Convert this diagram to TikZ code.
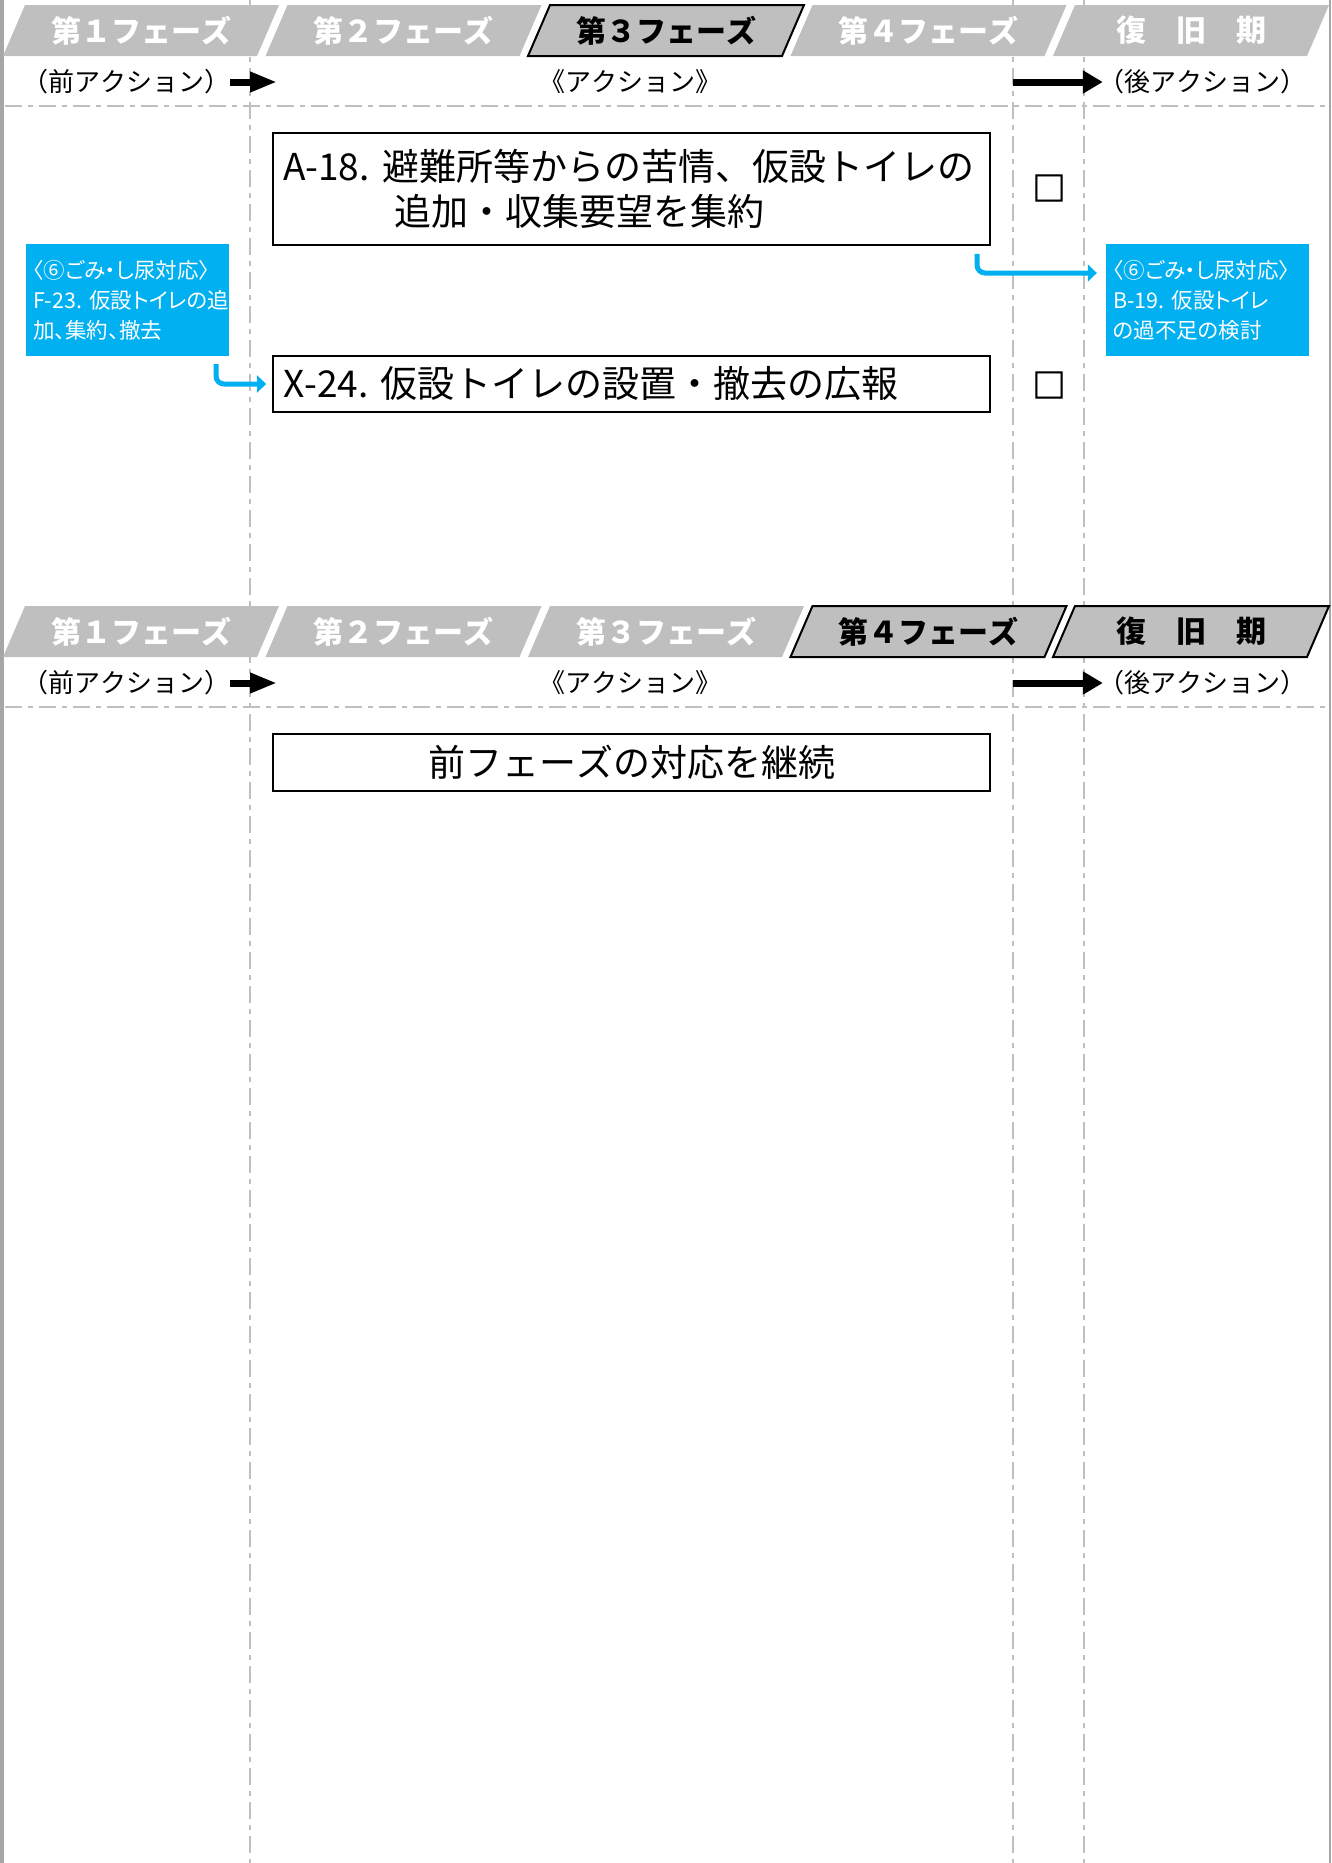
\documentclass[tikz,border=0pt]{standalone}
\usepackage{fontspec}
\setmainfont{Noto Sans CJK JP}[Kerning=Off]
\newfontfamily\propfont{Noto Sans CJK JP}[RawFeature=+palt]
\newfontfamily\boxfont{Noto Sans CJK JP}[FakeBold=2.5]
\usetikzlibrary{arrows.meta,positioning,calc}
\definecolor{tabgray}{HTML}{BFBFBF}
\definecolor{linegray}{HTML}{BFBFBF}
\definecolor{bargray}{HTML}{A6A6A6}
\definecolor{skyblue}{HTML}{00B0F0}
\frenchspacing

\begin{document}
\begin{tikzpicture}[x=1pt,y=-1pt,
    guide/.style={draw=linegray,line width=1.6pt,dash pattern=on 17pt off 6pt on 5pt off 6pt},
    tabtext/.style={font=\fontsize{30}{30}\selectfont\bfseries,text=white,inner sep=0pt},
    ontext/.style={tabtext,text=black},
    acttext/.style={font=\fontsize{26}{28}\selectfont,inner sep=0pt},
    bigarrow/.style={line width=7pt},
    task/.style={draw,line width=1.8pt,minimum width=717pt,inner xsep=10pt,inner ysep=0pt,
      text width=697pt,align=left,font=\fontsize{37}{44.5}\selectfont},
    link/.style={rectangle,fill=skyblue,text=white,minimum width=203pt,minimum height=112pt,
      inner xsep=7pt,text width=189pt,align=left,font=\propfont\fontsize{21.5}{30}\selectfont},
    flow/.style={draw=skyblue,line width=5pt,rounded corners=8pt,-{Triangle[length=9pt,width=17pt]}},
    chk/.style={font=\boxfont\fontsize{33}{33}\selectfont,inner sep=0pt}]
  \useasboundingbox (0,0) rectangle (1331,1863);
  % ---- frame and column guides ----
  \fill[bargray] (0,0) rectangle (4,1863);
  \draw[bargray,line width=2pt] (1329.5,0) -- (1329.5,1863);
  \foreach \gx in {250,1013,1084}
    \draw[guide] (\gx,0) -- (\gx,1863);
  % ---- two phase headers (active tabs framed) ----
  \foreach \dy/\first/\last [count=\h] in {0/2/2,601/3/4}{
    \foreach \i/\name in {0/第１フェーズ,1/第２フェーズ,2/第３フェーズ,3/第４フェーズ,4/復　旧　期}{
      \pgfmathsetmacro\xb{3+262.5*\i}
      \pgfmathtruncatemacro\act{and(\i>=\first,\i<=\last)}
      \ifnum\act=1
        \draw[fill=tabgray,line width=2pt] (\xb,56+\dy) -- ++(22,-51) -- ++(254,0) -- ++(-22,51) -- cycle;
        \node[ontext] (tab\h\i) at (\xb+138,30.5+\dy) {\name};
      \else
        \fill[tabgray] (\xb,56+\dy) -- ++(22,-51) -- ++(254,0) -- ++(-22,51) -- cycle;
        \node[tabtext] (tab\h\i) at (\xb+138,30.5+\dy) {\name};
      \fi
    }
    % action row
    \node[acttext] (pre\h) at (126,82+\dy) {（前アクション）};
    \node[acttext] (act\h) at (630,82+\dy) {《アクション》};
    \node[acttext] (post\h) at (1202,82+\dy) {（後アクション）};
    \coordinate (preTip\h) at (277,82+\dy);
    \coordinate (postFrom\h) at (1013,82+\dy);
    \draw[bigarrow,-{Triangle[length=27pt,width=19pt]}] (pre\h.east) -- (preTip\h);
    \draw[bigarrow,-{Triangle[length=20pt,width=22pt]}] (postFrom\h) -- ([xshift=5pt]post\h.west);
    \draw[guide] (5,106+\dy) -- (1331,106+\dy);
  }
  % ---- phase 3 actions ----
  \node[task,minimum height=112pt] (a18) at (631.5,189)
    {A-18. 避難所等からの苦情、仮設トイレの\\　　　追加・収集要望を集約};
  \node[task,minimum height=56pt] (x24) at (631.5,384) {X-24. 仮設トイレの設置・撤去の広報};
  \node[chk] (chkA) at (1049,188) {□};
  \node[chk] (chkX) at (1049,385) {□};
  \node[link] (f23) at (127.5,300) {〈⑥ごみ・し尿対応〉\\\mbox{F-23. 仮設トイレの追}\\加、集約、撤去};
  \node[link] (b19) at (1207.5,300) {〈⑥ごみ・し尿対応〉\\\mbox{B-19. 仮設トイレ}\\の過不足の検討};
  \draw[flow] ([xshift=88.5pt,yshift=-8pt]f23.south) |- ([xshift=-6pt]x24.west);
  \draw[flow] ([xshift=345.5pt,yshift=-8pt]a18.south) |- ([xshift=-9pt,yshift=27pt]b19.west);
  % ---- phase 4 ----
  \node[task,align=center,minimum height=57pt] (cont) at (631.5,762.5) {前フェーズの対応を継続};
\end{tikzpicture}
\end{document}
